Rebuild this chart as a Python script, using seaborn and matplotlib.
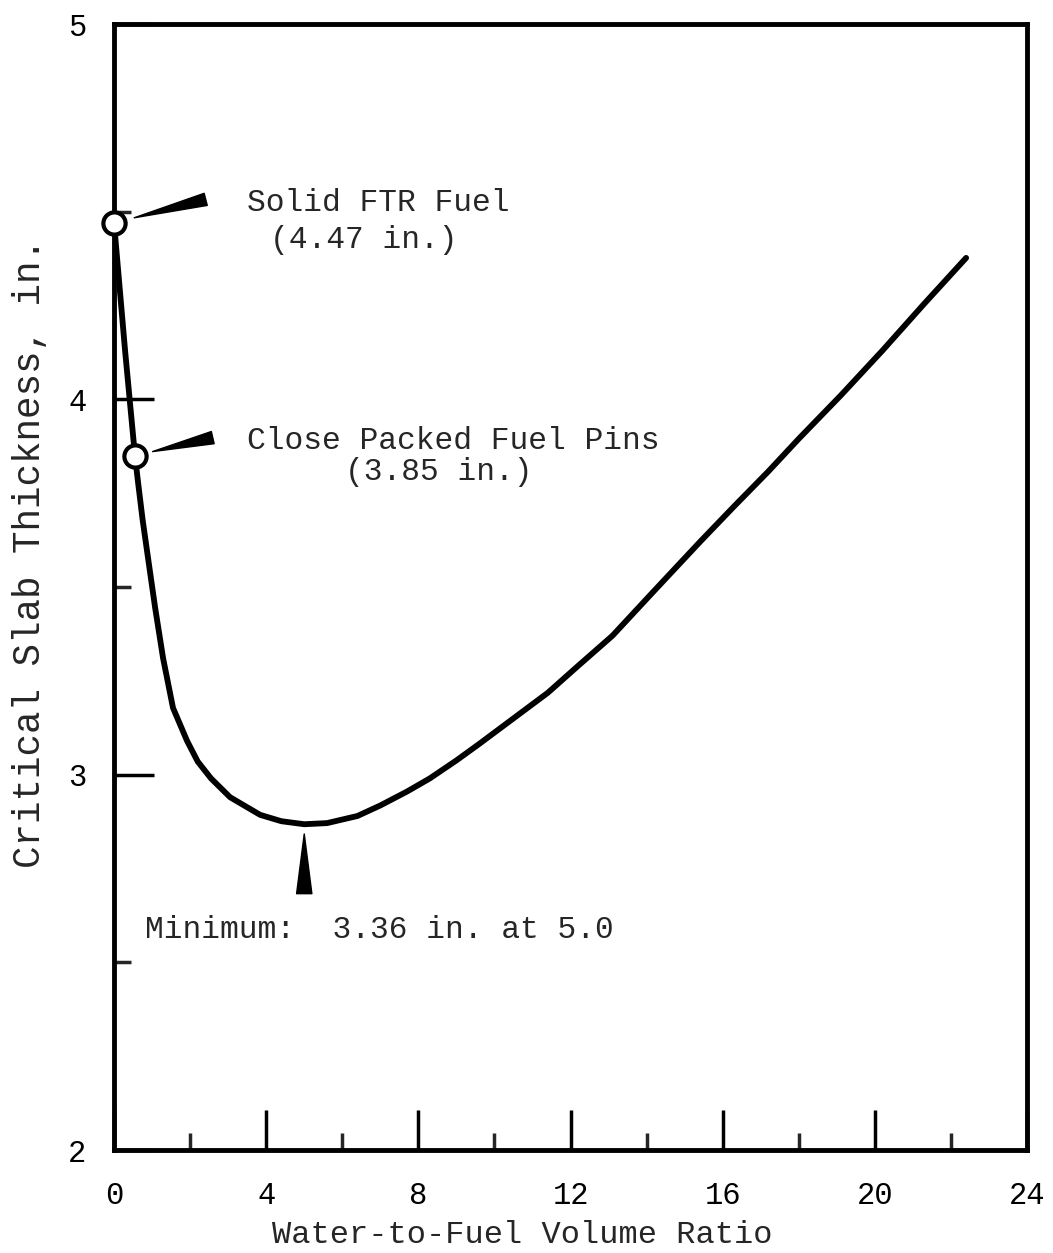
import matplotlib
matplotlib.use("Agg")
import matplotlib.pyplot as plt
import seaborn as sns
import pandas as pd

# Critical slab thickness vs. water-to-fuel volume ratio
ratio = [0.0, 0.29, 0.55, 0.63, 0.75, 0.89, 1.08, 1.29, 1.55, 1.92, 2.2, 2.55,
         3.05, 3.84, 4.4, 5.0, 5.6, 6.4, 7.0, 7.7, 8.3, 9.0, 9.6, 10.5, 11.4,
         12.2, 13.1, 14.2, 15.4, 16.3, 17.2, 18.0, 19.1, 20.2, 21.3, 22.4]
thickness = [4.47, 4.13, 3.85, 3.78, 3.68, 3.58, 3.445, 3.31, 3.178, 3.09, 3.035, 2.99,
             2.94, 2.893, 2.876, 2.868, 2.871, 2.89, 2.918, 2.955, 2.99, 3.038, 3.082, 3.15, 3.218,
             3.29, 3.37, 3.49, 3.62, 3.715, 3.808, 3.895, 4.01, 4.13, 4.255, 4.377]

# Labelled reference points
point_ratio = [0.0, 0.55]
point_thickness = [4.47, 3.85]
point_names = ["Solid FTR Fuel", "Close Packed Fuel Pins"]
point_values = ["(4.47 in.)", "(3.85 in.)"]

min_ratio = 5.0
min_thickness = 2.868
min_text = "Minimum:  3.36 in. at 5.0"

x_major = [0, 4, 8, 12, 16, 20, 24]
x_minor = [2, 6, 10, 14, 18, 22]
y_major = [2, 3, 4, 5]
y_minor = [2.5, 3.5, 4.5]

df = pd.DataFrame({"ratio": ratio, "thickness": thickness})

sns.set_style("white")
plt.rcParams["font.family"] = ["Liberation Mono", "DejaVu Sans Mono"]

fig = plt.figure(figsize=(10.53, 12.53), dpi=100)
ax = fig.add_axes([0.1083, 0.0822, 0.8670, 0.8986])

sns.lineplot(data=df, x="ratio", y="thickness", ax=ax, color="black",
             linewidth=4.2, estimator=None, sort=False, zorder=3)
ax.lines[-1].set_solid_joinstyle("round")
ax.lines[-1].set_solid_capstyle("round")
ax.plot(point_ratio, point_thickness, linestyle="none", marker="o",
        markersize=16, markerfacecolor="white", markeredgecolor="black",
        markeredgewidth=3, zorder=5, clip_on=False)

ax.set_xlim(0, 24)
ax.set_ylim(2, 5)
ax.set_xticks(x_major)
ax.set_xticks(x_minor, minor=True)
ax.set_yticks(y_major)
ax.set_yticks(y_minor, minor=True)
ax.set_xticklabels([str(v) for v in x_major])
ax.set_yticklabels([str(v) for v in y_major])

ax.tick_params(axis="both", which="major", direction="in", length=29, width=2.5,
               labelsize=22, colors="black", bottom=True, left=True,
               top=False, right=False)
ax.tick_params(axis="both", which="minor", direction="in", length=12, width=2.5,
               bottom=True, left=True, top=False, right=False)
ax.tick_params(axis="x", which="major", pad=22)
ax.tick_params(axis="y", which="major", pad=20)

for side in ["left", "right", "top", "bottom"]:
    ax.spines[side].set_visible(True)
    ax.spines[side].set_color("black")
    ax.spines[side].set_linewidth(3.5)

ax.set_xlabel("Water-to-Fuel Volume Ratio", fontsize=23)
ax.set_ylabel("Critical Slab Thickness, in.", fontsize=27)
ax.xaxis.set_label_coords(0.447, -0.062)
ax.yaxis.set_label_coords(-0.072, 0.53)

# Wedge pointers from the labels to the marked points
wedge_offsets = [(66, 17), (56, 13)]
wedge_shrink = [15, 13]
for px, py, off, shr in zip(point_ratio, point_thickness, wedge_offsets, wedge_shrink):
    ax.annotate("", xy=(px, py), xytext=off, textcoords="offset points",
                arrowprops=dict(arrowstyle="wedge,tail_width=0.45,shrink_factor=0.5",
                                mutation_scale=20, color="black",
                                shrinkA=0, shrinkB=shr),
                annotation_clip=False, zorder=4)

ax.annotate("", xy=(min_ratio, min_thickness), xytext=(0, -50),
            textcoords="offset points",
            arrowprops=dict(arrowstyle="wedge,tail_width=0.55,shrink_factor=0.5",
                            mutation_scale=20, color="black", shrinkA=0, shrinkB=7),
            zorder=4)

# Label texts
ax.text(3.5, 4.523, point_names[0], fontsize=22.5, ha="left", va="center")
ax.text(4.1, 4.425, point_values[0], fontsize=22.5, ha="left", va="center")
ax.text(3.5, 3.889, point_names[1], fontsize=22.5, ha="left", va="center")
ax.text(6.07, 3.807, point_values[1], fontsize=22.5, ha="left", va="center")
ax.text(0.815, 2.586, min_text, fontsize=22.5, ha="left", va="center")

fig.savefig("out.png", dpi=100, facecolor="white")
